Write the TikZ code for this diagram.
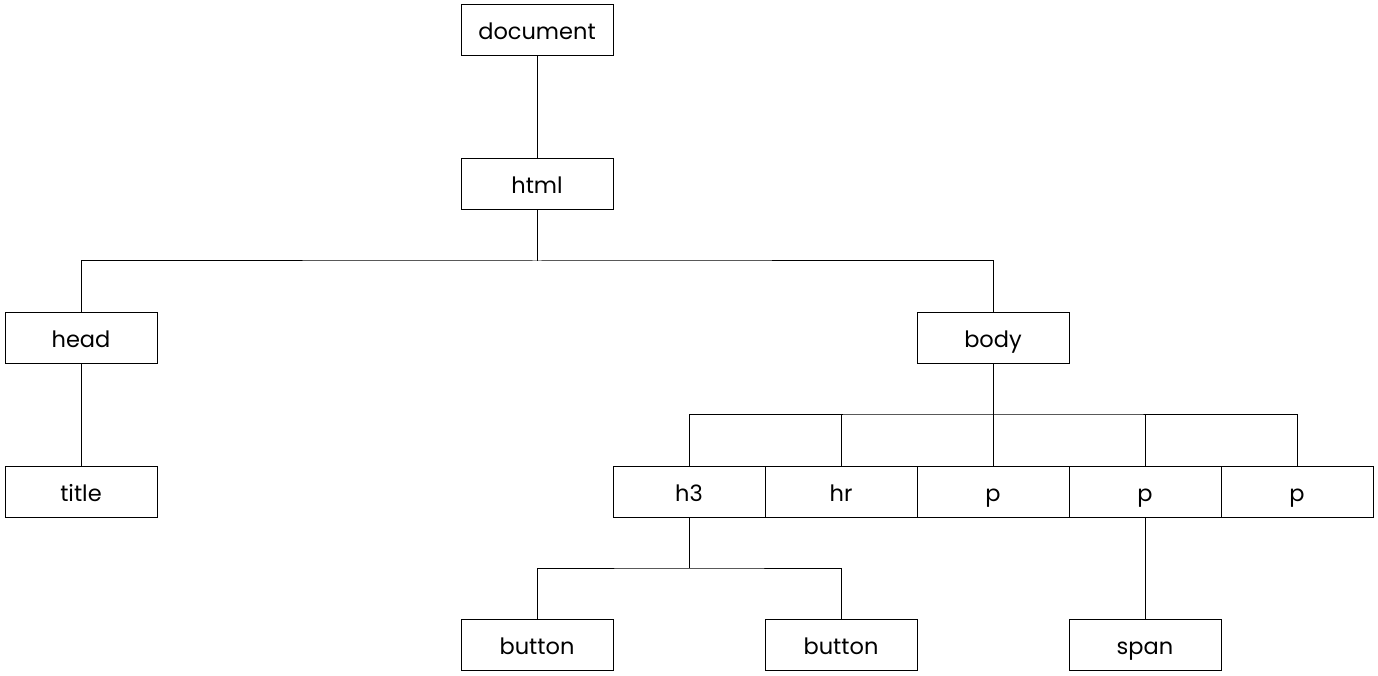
\documentclass[tikz,border=0pt]{standalone}
\usepackage{fontspec}
\setmainfont{Poppins}
\begin{document}
\begin{tikzpicture}[x=1pt,y=-1pt,
  box/.style={draw=black,line width=1pt,minimum width=152pt,minimum height=51pt,inner sep=0pt,text height=25pt,text depth=6pt,font=\fontsize{22.5}{26}\selectfont,text=black},
  conn/.style={draw=black,line width=1pt}]
\useasboundingbox (0,0) rectangle (1378,676);
\node[box] (document) at (537,30.5) {document};
\node[box] (html) at (537,184) {html};
\node[box] (head) at (81,337.5) {head};
\node[box] (body) at (993,337.5) {body};
\node[box] (title) at (81,491.5) {title};
\node[box] (h3) at (689,491.5) {h3};
\node[box] (hr) at (841,491.5) {hr};
\node[box] (p1) at (993,491.5) {p};
\node[box] (p2) at (1145,491.5) {p};
\node[box] (p3) at (1297,491.5) {p};
\node[box] (b1) at (537,644.5) {button};
\node[box] (b2) at (841,644.5) {button};
\node[box] (span) at (1145,644.5) {span};
\coordinate (j1) at (537,261);
\coordinate (j2) at (993,414);
\coordinate (j3) at (689,568);
\draw[conn] (document) -- (html);
\draw[conn] (html) -- (j1);
\draw[conn] (head.north) |- (j1) -| (body.north);
\draw[conn] (head) -- (title);
\draw[conn] (body) -- (j2);
\draw[conn] (h3.north) |- (j2) -| (p3.north);
\draw[conn] (hr.north) -- (hr.north |- j2);
\draw[conn] (p1.north) -- (j2);
\draw[conn] (p2.north) -- (p2.north |- j2);
\draw[conn] (h3) -- (j3);
\draw[conn] (b1.north) |- (j3) -| (b2.north);
\draw[conn] (p2) -- (span);
\end{tikzpicture}
\end{document}
